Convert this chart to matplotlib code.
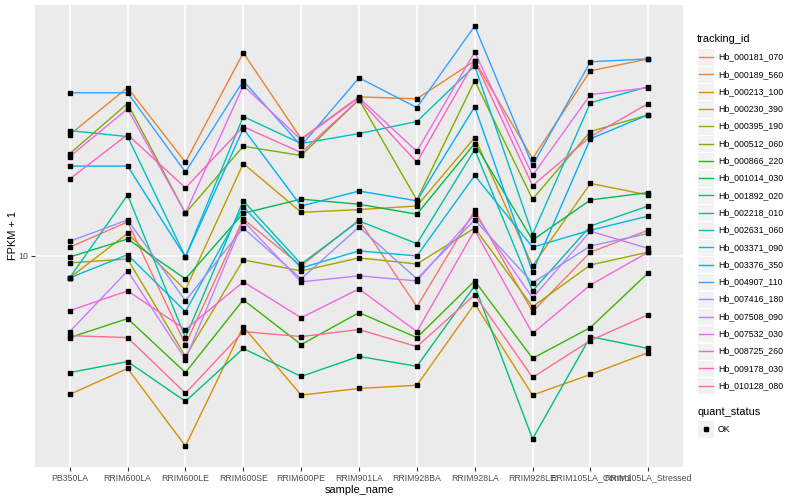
import numpy as np
import matplotlib.pyplot as plt
from matplotlib.patches import Rectangle
from matplotlib.ticker import NullLocator

plt.rcParams['font.family'] = ['Liberation Sans', 'DejaVu Sans']

samples = ['PB350LA', 'RRIM600LA', 'RRIM600LE', 'RRIM600SE', 'RRIM600PE',
           'RRIM901LA', 'RRIM928BA', 'RRIM928LA', 'RRIM928LE',
           'RRIM105LA_Control', 'RRIM105LA_Stressed']

tracking_ids = ['Hb_000181_070', 'Hb_000189_560', 'Hb_000213_100', 'Hb_000230_390',
                'Hb_000395_190', 'Hb_000512_060', 'Hb_000866_220', 'Hb_001014_030',
                'Hb_001892_020', 'Hb_002218_010', 'Hb_002631_060', 'Hb_003371_090',
                'Hb_003376_350', 'Hb_004907_110', 'Hb_007416_180', 'Hb_007508_090',
                'Hb_007532_030', 'Hb_008725_260', 'Hb_009178_030', 'Hb_010128_080']

# ggplot default hue palette, 20 levels
colors = ['#F8766D', '#EA8331', '#D89000', '#C09B00', '#A3A500', '#7CAE00',
          '#39B600', '#00BB4E', '#00BF7D', '#00C1A3', '#00BFC4', '#00BAE0',
          '#00B0F6', '#35A2FF', '#9590FF', '#C77CFF', '#E76BF3', '#FA62DB',
          '#FF62BC', '#FF6C91']

# FPKM + 1, one value per sample
hb_000181_070 = [10.7, 13.0, 5.05, 13.3, 9.26, 13.2, 6.76, 14.2, 6.51, 10.3, 12.2]
hb_000189_560 = [25.5, 36.6, 20.6, 47.9, 24.7, 34.1, 33.6, 45.0, 21.2, 41.7, 45.7]
hb_000213_100 = [3.44, 4.20, 2.31, 5.80, 3.42, 3.60, 3.69, 6.92, 3.42, 4.01, 4.75]
hb_000230_390 = [8.45, 11.9, 7.70, 20.4, 14.0, 14.3, 14.7, 24.9, 9.26, 17.5, 16.0]
hb_000395_190 = [9.48, 9.77, 4.61, 9.70, 8.91, 9.85, 9.40, 12.4, 6.76, 9.33, 10.3]
hb_000512_060 = [22.0, 32.4, 13.9, 23.3, 21.7, 33.4, 15.4, 38.6, 15.5, 26.1, 29.7]
hb_000866_220 = [5.33, 6.17, 4.07, 7.13, 5.05, 6.46, 5.33, 8.25, 4.54, 5.76, 8.78]
hb_001014_030 = [9.92, 11.4, 8.38, 13.9, 15.5, 14.9, 13.8, 23.8, 11.3, 15.4, 16.3]
hb_001892_020 = [4.07, 4.43, 3.26, 4.90, 3.95, 4.61, 4.27, 7.94, 2.44, 5.37, 4.90]
hb_002218_010 = [8.45, 16.0, 5.33, 15.3, 9.40, 13.1, 11.0, 22.7, 7.64, 12.6, 14.7]
hb_002631_060 = [26.3, 25.1, 9.92, 29.3, 23.8, 25.7, 28.2, 43.3, 11.8, 32.6, 36.9]
hb_003371_090 = [8.45, 10.1, 6.51, 14.6, 9.12, 10.4, 10.0, 18.6, 10.7, 12.2, 13.6]
hb_003376_350 = [20.0, 20.0, 9.92, 26.7, 14.7, 16.5, 15.3, 31.6, 8.84, 24.7, 29.7]
hb_004907_110 = [35.2, 35.2, 19.1, 38.6, 23.4, 39.5, 31.4, 58.9, 20.1, 44.7, 45.7]
hb_007416_180 = [11.2, 13.2, 7.08, 12.4, 8.38, 12.5, 8.38, 13.2, 8.13, 10.8, 11.9]
hb_007508_090 = [5.58, 8.91, 4.50, 13.1, 8.19, 8.58, 8.25, 13.8, 7.24, 12.1, 10.6]
hb_007532_030 = [21.5, 31.1, 13.9, 37.2, 24.5, 33.9, 22.4, 48.2, 18.6, 34.7, 36.6]
hb_008725_260 = [6.56, 7.64, 5.67, 8.19, 6.21, 7.76, 5.58, 12.2, 5.50, 8.00, 10.3]
hb_009178_030 = [18.1, 25.5, 16.9, 27.1, 22.2, 33.4, 20.6, 45.0, 17.2, 25.1, 32.4]
hb_010128_080 = [5.41, 5.33, 3.47, 5.58, 5.37, 5.67, 4.97, 7.41, 3.92, 5.21, 6.36]

fpkm = [hb_000181_070, hb_000189_560, hb_000213_100, hb_000230_390, hb_000395_190,
        hb_000512_060, hb_000866_220, hb_001014_030, hb_001892_020, hb_002218_010,
        hb_002631_060, hb_003371_090, hb_003376_350, hb_004907_110, hb_007416_180,
        hb_007508_090, hb_007532_030, hb_008725_260, hb_009178_030, hb_010128_080]

fig = plt.figure(figsize=(8, 5), dpi=100)
ax = fig.add_axes([35/800, 33/500, 648/800, 462/500])
ax.set_facecolor('#EBEBEB')

x = np.arange(len(samples))
for vals, c in zip(fpkm, colors):
    ax.plot(x, vals, color=c, lw=1.0, zorder=2)
for vals in fpkm:
    ax.plot(x, vals, ls='none', marker='s', ms=2.8, color='black', zorder=3)

ax.set_yscale('log')
allv = np.array(fpkm)
lo, hi = np.log10(allv.min()), np.log10(allv.max())
pad = 0.05 * (hi - lo)
ax.set_ylim(10 ** (lo - pad), 10 ** (hi + pad))
ax.set_xlim(-0.6, len(samples) - 0.4)
ax.set_yticks([10])
ax.set_yticklabels(['10'])
ax.yaxis.set_minor_locator(NullLocator())
ax.set_xticks(x)
ax.set_xticklabels(samples)
ax.grid(True, color='white', lw=1.1)
ax.set_axisbelow(True)
for s in ax.spines.values():
    s.set_visible(False)
ax.tick_params(length=2.8, width=0.8, color='#333333', labelcolor='#4D4D4D',
               labelsize=6.3, pad=2)
ax.set_xlabel('sample_name', fontsize=7.9, labelpad=2)
ax.set_ylabel('FPKM + 1', fontsize=7.9, labelpad=0)

# legend drawn in pixel space on an overlay axes
lg = fig.add_axes([0, 0, 1, 1])
lg.set_xlim(0, 800)
lg.set_ylim(500, 0)
lg.axis('off')
lg.text(697, 39, 'tracking_id', fontsize=7.9, va='center', ha='left')
for i, (name, c) in enumerate(zip(tracking_ids, colors)):
    y = 57 + i * 17.3
    lg.add_patch(Rectangle((697, y - 8.6), 17.2, 17.2, fc='#F2F2F2', ec='white', lw=0.8))
    lg.plot([698.5, 712.5], [y, y], color=c, lw=1.0)
    lg.text(718, y, name, fontsize=6.3, va='center', ha='left')
lg.text(697, 412, 'quant_status', fontsize=7.9, va='center', ha='left')
lg.add_patch(Rectangle((697, 429 - 8.6), 17.2, 17.2, fc='#F2F2F2', ec='white', lw=0.8))
lg.plot([705.6], [429], ls='none', marker='s', ms=2.8, color='black')
lg.text(718, 429, 'OK', fontsize=6.3, va='center', ha='left')

fig.savefig('out.png', dpi=100)
